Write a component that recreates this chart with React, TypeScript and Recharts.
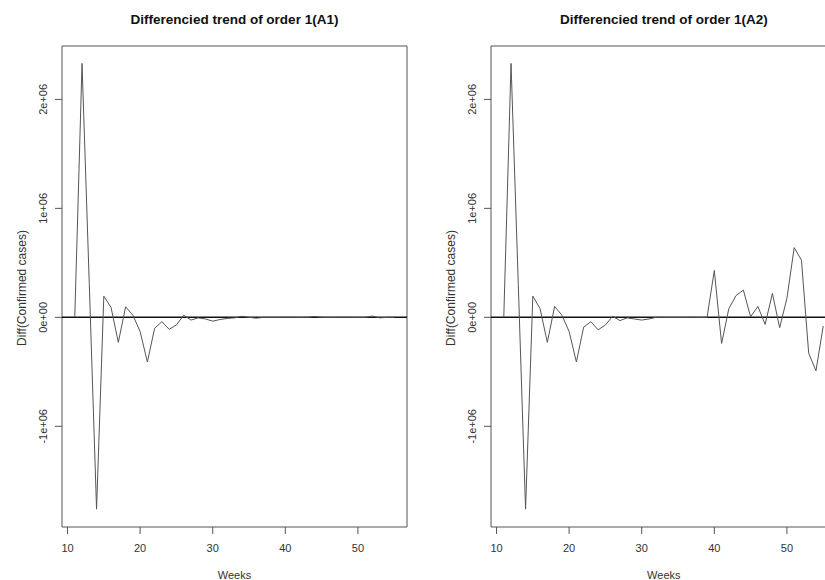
import React from "react";
import {
  LineChart,
  Line,
  XAxis,
  YAxis,
  ReferenceLine,
  ReferenceArea,
} from "recharts";

// weekly first differences of confirmed cases
const weeks = [
  11, 12, 13, 14, 15, 16, 17, 18, 19, 20, 21, 22, 23, 24, 25, 26, 27, 28, 29, 30,
  31, 32, 33, 34, 35, 36, 37, 38, 39, 40, 41, 42, 43, 44, 45, 46, 47, 48, 49, 50,
  51, 52, 53, 54, 55,
];

const diffA1 = [
  0, 2330000, 300000, -1760000, 195000, 90000, -230000, 97000, 20000, -130000,
  -410000, -100000, -40000, -110000, -70000, 20000, -25000, -5000, -15000, -35000,
  -20000, -10000, -5000, 10000, 0, -8000, 0, 0, 0, 0,
  0, 0, 0, 8000, 0, 0, 0, 0, 0, 0,
  0, 12000, -5000, 0, 0,
];

const diffA2 = [
  0, 2330000, 300000, -1760000, 195000, 80000, -230000, 100000, 20000, -130000,
  -410000, -90000, -40000, -115000, -70000, 10000, -30000, -5000, -15000, -25000,
  -15000, 0, 0, 0, 0, 0, 0, 0, 0, 430000,
  -240000, 80000, 200000, 250000, 5000, 100000, -65000, 220000, -95000, 175000,
  640000, 525000, -330000, -490000, -80000,
];

const xTicks = [10, 20, 30, 40, 50];
const yTicks = [-1000000, 0, 1000000, 2000000];
const yTickLabels: Record<number, string> = {
  "-1000000": "-1e+06",
  "0": "0e+00",
  "1000000": "1e+06",
  "2000000": "2e+06",
};

const X_DOMAIN: [number, number] = [9.24, 56.76];
const Y_DOMAIN: [number, number] = [-1924000, 2490000];

const FONT = "'Liberation Sans', Arial, sans-serif";

const rowsA1 = weeks.map((w, i) => ({ week: w, diff: diffA1[i] }));
const rowsA2 = weeks.map((w, i) => ({ week: w, diff: diffA2[i] }));

const XTick = (props: any) => {
  const { x, payload } = props;
  return (
    <text x={x} y={552} textAnchor="middle" fontSize={11} fontFamily={FONT} fill="#333">
      {payload.value}
    </text>
  );
};

const YTick = (props: any) => {
  const { y, payload } = props;
  const tx = 47.5;
  return (
    <text
      x={tx}
      y={y}
      transform={`rotate(-90 ${tx} ${y})`}
      textAnchor="middle"
      fontSize={11}
      fontFamily={FONT}
      fill="#333"
    >
      {yTickLabels[String(payload.value)]}
    </text>
  );
};

function Panel({ title, data, left }: { title: string; data: any[]; left: number }) {
  return (
    <div style={{ position: "absolute", left, top: 0, width: 429, height: 580 }}>
      <div
        style={{
          position: "absolute",
          left: 62,
          width: 345,
          top: 12,
          textAlign: "center",
          fontFamily: FONT,
          fontWeight: "bold",
          fontSize: 13.5,
          color: "#111",
        }}
      >
        {title}
      </div>
      <div
        style={{
          position: "absolute",
          left: 21.7 - 100,
          top: 288 - 8,
          width: 200,
          height: 16,
          lineHeight: "16px",
          textAlign: "center",
          transform: "rotate(-90deg)",
          fontFamily: FONT,
          fontSize: 12,
          color: "#333",
        }}
      >
        Diff(Confirmed cases)
      </div>
      <div
        style={{
          position: "absolute",
          left: 62,
          width: 345,
          top: 567,
          lineHeight: "16px",
          textAlign: "center",
          fontFamily: FONT,
          fontSize: 11,
          color: "#333",
        }}
      >
        Weeks
      </div>
      <LineChart
        width={429}
        height={580}
        data={data}
        margin={{ top: 46, right: 22, bottom: 0, left: 0 }}
      >
        <ReferenceArea
          x1={X_DOMAIN[0]}
          x2={X_DOMAIN[1]}
          y1={Y_DOMAIN[0]}
          y2={Y_DOMAIN[1]}
          fill="none"
          stroke="#555"
          strokeWidth={1}
        />
        <XAxis
          dataKey="week"
          type="number"
          domain={X_DOMAIN}
          ticks={xTicks}
          height={53}
          axisLine={false}
          tickSize={7}
          tickLine={{ stroke: "#555" }}
          tick={<XTick />}
        />
        <YAxis
          type="number"
          domain={Y_DOMAIN}
          ticks={yTicks}
          width={62}
          axisLine={false}
          tickSize={7}
          tickLine={{ stroke: "#555" }}
          tick={<YTick />}
        />
        <ReferenceLine y={0} stroke="#111" strokeWidth={1.5} />
        <Line
          type="linear"
          dataKey="diff"
          stroke="#555"
          strokeWidth={1}
          dot={false}
          isAnimationActive={false}
        />
      </LineChart>
    </div>
  );
}

export default function App() {
  return (
    <div
      style={{
        position: "absolute",
        left: 0,
        top: 0,
        width: 825,
        height: 580,
        overflow: "hidden",
        background: "#fff",
      }}
    >
      <Panel title="Differencied trend of order 1(A1)" data={rowsA1} left={0} />
      <Panel title="Differencied trend of order 1(A2)" data={rowsA2} left={429.3} />
    </div>
  );
}
